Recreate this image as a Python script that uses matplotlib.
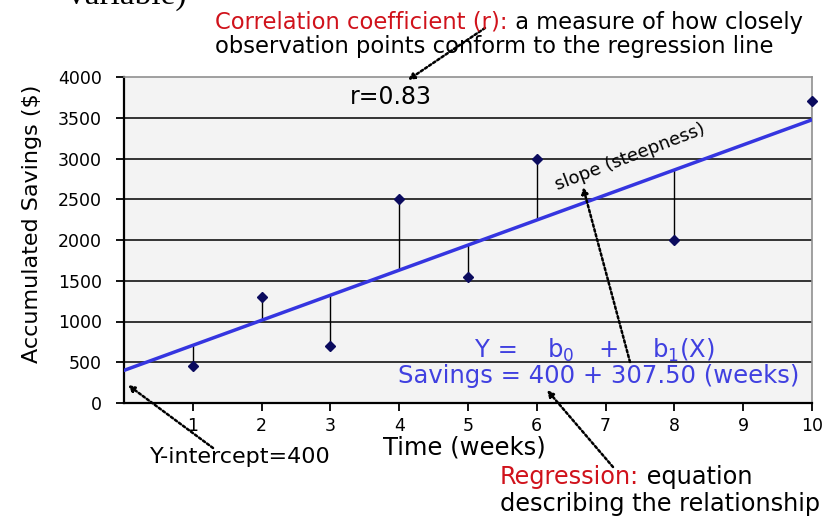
import numpy as np
import matplotlib.pyplot as plt

plt.rcParams['font.family'] = ['DejaVu Sans']
plt.rcParams['mathtext.fontset'] = 'dejavusans'

# observations: week vs accumulated savings
weeks = [1, 2, 3, 4, 5, 6, 8, 10]
savings = [450, 1300, 700, 2500, 1550, 3000, 2000, 3700]

# fitted regression line
b0 = 400
b1 = 307.50
r_value = 0.83

y_ticks = [0, 500, 1000, 1500, 2000, 2500, 3000, 3500, 4000]
x_ticks = [1, 2, 3, 4, 5, 6, 7, 8, 9, 10]

W, H = 831, 516
fig = plt.figure(figsize=(W / 100, H / 100), dpi=100)
ax = fig.add_axes([124 / W, 1 - 403 / H, (812 - 124) / W, (403 - 77) / H])
ax.set_facecolor('#f3f3f3')


def px(x, y):
    # pixel position -> figure fraction
    return x / W, 1 - y / H


# grid
for yv in y_ticks[1:-1]:
    ax.axhline(yv, color='black', lw=1.1, zorder=1)

xs = np.array(weeks)
ys = np.array(savings)
fit = b0 + b1 * xs

# residual stems
ax.vlines(xs, ys, fit, color='black', lw=1, zorder=2)

# regression line
xl = np.array([0, 10])
ax.plot(xl, b0 + b1 * xl, color='#3535e0', lw=2.5, zorder=3)

ax.plot(xs, ys, 'D', color='#0b0b5e', ms=5.5, zorder=4, clip_on=False)

ax.set_xlim(0, 10)
ax.set_ylim(0, 4000)
ax.set_xticks(x_ticks)
ax.set_yticks(y_ticks)
ax.tick_params(axis='both', labelsize=12.5, color='black', length=6, width=1.3)
ax.tick_params(axis='x', pad=4)
ax.tick_params(axis='y', pad=10)
for s in ['top', 'right']:
    ax.spines[s].set_color('#909090')
    ax.spines[s].set_linewidth(1.2)
for s in ['left', 'bottom']:
    ax.spines[s].set_color('black')
    ax.spines[s].set_linewidth(1.6)

fig.text(*px(32, 224), 'Accumulated Savings ($)', rotation=90, fontsize=16,
         ha='center', va='center')
fig.text(*px(383, 448), 'Time (weeks)', fontsize=17.5, ha='left', va='center')

# cropped heading left over from above
fig.text(*px(68, 4), 'variable)', family='Liberation Serif', fontsize=24,
         ha='left', va='baseline')

# correlation note
t1 = fig.text(*px(215, 22), 'Correlation coefficient (r):', color='#d0121b',
              fontsize=16.3, ha='left', va='center')
fig.text(*px(215, 47), 'observation points conform to the regression line',
         fontsize=16.3, ha='left', va='center')

fig.text(*px(350, 97), 'r=%.2f' % r_value, fontsize=17, ha='left', va='center')

# slope label along the line
ax.text(7.35, 3020, 'slope (steepness)', rotation=21, fontsize=13,
        ha='center', va='center', rotation_mode='anchor')

# equation
eq_color = '#4040e0'
fig.text(*px(475, 350), 'Y =', color=eq_color, fontsize=17.5, ha='left', va='center')
fig.text(*px(547, 350), r'b$_\mathrm{0}$', color=eq_color, fontsize=17.5, ha='left', va='center')
fig.text(*px(598, 350), '+', color=eq_color, fontsize=17.5, ha='left', va='center')
fig.text(*px(652, 350), r'b$_\mathrm{1}$(X)', color=eq_color, fontsize=17.5, ha='left', va='center')
fig.text(*px(398, 376), 'Savings = %d + %.2f (weeks)' % (b0, b1), color=eq_color,
         fontsize=17.5, ha='left', va='center')

fig.text(*px(150, 457), 'Y-intercept=%d' % b0, fontsize=16, ha='left', va='center')

t2 = fig.text(*px(500, 477), 'Regression:', color='#d0121b', fontsize=17.3,
              ha='left', va='center')
fig.text(*px(500, 504), 'describing the relationship', fontsize=17.3,
         ha='left', va='center')

# dotted pointer arrows
arrows = [((485, 28), (408, 80)),
          ((630, 362), (583, 187)),
          ((613, 467), (547, 390)),
          ((213, 448), (128, 385))]
for (sx, sy), (ex, ey) in arrows:
    fig.add_artist(plt.Annotation('', xy=px(ex, ey), xytext=px(sx, sy),
                                  xycoords='figure fraction',
                                  textcoords='figure fraction',
                                  arrowprops=dict(arrowstyle='-|>', ls=(0, (1, 1)),
                                                  lw=1.8, color='black',
                                                  mutation_scale=9,
                                                  shrinkA=0, shrinkB=0)))

# black continuations of the red lead-ins
fig.add_artist(plt.Annotation(' a measure of how closely', xy=(1, 0.5), xycoords=t1,
                              fontsize=16.3, ha='left', va='center'))
fig.add_artist(plt.Annotation(' equation', xy=(1, 0.5), xycoords=t2,
                              fontsize=17.3, ha='left', va='center'))

fig.savefig('out.png', dpi=100)
